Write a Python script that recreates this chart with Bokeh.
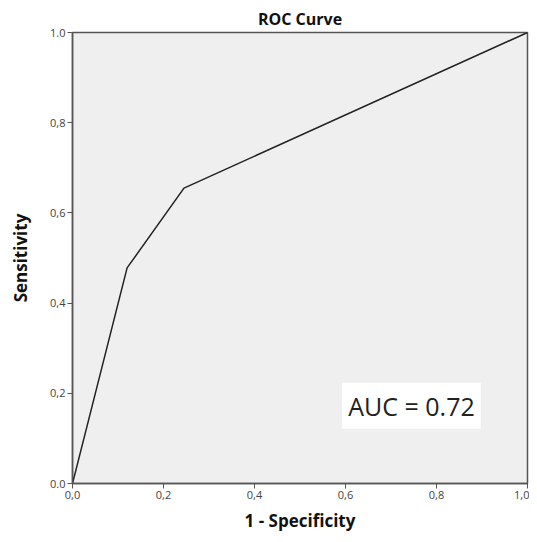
from bokeh.plotting import figure
from bokeh.models import FixedTicker, Label, Range1d
from bokeh.embed import file_html
from bokeh.resources import INLINE

# Data
fpr = [0.0, 0.12, 0.245, 1.0]
tpr = [0.0, 0.478, 0.655, 1.0]
ticks = [0.0, 0.2, 0.4, 0.6, 0.8, 1.0]
x_tick_labels = ["0,0", "0,2", "0,4", "0,6", "0,8", "1,0"]
y_tick_labels = ["0.0", "0,2", "0,4", "0,6", "0,8", "1.0"]
auc_text = "AUC = 0.72"
title_text = "ROC Curve"
x_label = "1 - Specificity"
y_label = "Sensitivity"

FONT = "Open Sans"

p = figure(width=529, height=534, output_backend="svg", toolbar_location=None,
           x_range=Range1d(0, 1), y_range=Range1d(0, 1),
           min_border_left=72, min_border_right=2, min_border_top=32, min_border_bottom=47)

p.background_fill_color = "#efefef"
p.border_fill_color = "white"
p.outline_line_color = "#555555"
p.outline_line_width = 1.5
p.grid.visible = False

p.title.text = title_text
p.title.align = "center"
p.title.text_font = FONT
p.title.text_font_style = "bold"
p.title.text_font_size = "16px"
p.title.text_color = "#111111"
p.title.offset = 0
p.title.standoff = 6

for ax, labels, lab in ((p.xaxis[0], x_tick_labels, x_label), (p.yaxis[0], y_tick_labels, y_label)):
    ax.ticker = FixedTicker(ticks=ticks)
    ax.major_label_overrides = {t: l for t, l in zip(ticks, labels)}
    ax.minor_tick_line_color = None
    ax.axis_line_color = "#555555"
    ax.axis_line_width = 1.5
    ax.major_tick_line_color = "#555555"
    ax.major_tick_out = 5
    ax.major_tick_in = 0
    ax.major_label_text_font = FONT
    ax.major_label_text_font_size = "11px"
    ax.major_label_text_color = "#444444"
    ax.axis_label = lab
    ax.axis_label_text_font = FONT
    ax.axis_label_text_font_style = "bold"
    ax.axis_label_text_font_size = "17px"
    ax.axis_label_text_color = "#111111"

p.xaxis.major_label_standoff = 2
p.yaxis.major_label_standoff = 2
p.xaxis.axis_label_standoff = 7
p.yaxis.axis_label_standoff = 15

p.line(fpr, tpr, line_color="#222222", line_width=1.5)

lbl = Label(x=0.745, y=0.1725, text=auc_text, text_align="center", text_baseline="middle",
            text_font=FONT, text_font_size="25px", text_color="#222222",
            background_fill_color="white", background_fill_alpha=1.0, padding=6)
p.add_layout(lbl)

open("out.html", "w").write(file_html(p, INLINE))
